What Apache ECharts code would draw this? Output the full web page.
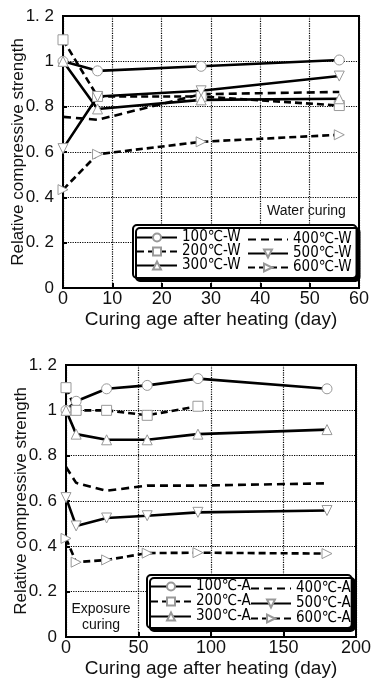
<!DOCTYPE html>
<html><head><meta charset="utf-8">
<script src="https://cdn.jsdelivr.net/npm/echarts@6/dist/echarts.min.js"></script>
<style>html,body{margin:0;padding:0;background:#fff}#c{width:371px;height:679px}</style>
</head><body><div id="c"></div>
<script>
// ---- Data: water curing (top) ----
const wDays = [0, 7, 28, 56];
const w100 = [1.0, 0.958, 0.978, 1.006];
const w200 = [1.095, 0.845, 0.845, 0.805];
const w300 = [1.0, 0.79, 0.83, 0.835];
const w400 = [0.755, 0.742, 0.855, 0.865];
const w500 = [0.615, 0.845, 0.87, 0.935];
const w600 = [0.434, 0.59, 0.645, 0.676];
const wNames = ['100℃-W', '200℃-W', '300℃-W', '400℃-W', '500℃-W', '600℃-W'];
// ---- Data: exposure curing (bottom) ----
const aDays = [0, 7, 28, 56, 91, 180];
const a100 = [1.0, 1.04, 1.095, 1.11, 1.14, 1.095];
const a200 = [1.1, 1.0, 1.0, 0.978, 1.018, null];
const a300 = [1.0, 0.895, 0.87, 0.87, 0.895, 0.915];
const a400 = [0.75, 0.68, 0.645, 0.668, 0.668, 0.678];
const a500 = [0.615, 0.49, 0.525, 0.535, 0.55, 0.558];
const a600 = [0.435, 0.33, 0.34, 0.37, 0.372, 0.368];
const aNames = ['100℃-A', '200℃-A', '300℃-A', '400℃-A', '500℃-A', '600℃-A'];
// ---- Axis labels ----
const yTicks = [0, 0.2, 0.4, 0.6, 0.8, 1.0, 1.2];
const yTickText = ['0', '0. 2', '0. 4', '0. 6', '0. 8', '1', '1. 2'];
const yTitle = 'Relative compressive strength';
const xTitle = 'Curing age after heating (day)';

const chart = echarts.init(document.getElementById('c'), null, {renderer: 'canvas'});
const FONT = '"Liberation Sans", Arial, sans-serif';
const NARROW = '"Liberation Sans Narrow", "Arial Narrow", "DejaVu Sans Condensed", "Liberation Sans", sans-serif';

function pairs(days, vals) {
  const out = [];
  days.forEach((d, i) => { if (vals[i] != null) out.push([d, vals[i]]); });
  return out;
}
const styles = [
  {symbol: 'circle', rot: 0, dash: 'solid'},
  {symbol: 'rect', rot: 0, dash: [7, 4]},
  {symbol: 'triangle', rot: 0, dash: 'solid'},
  {symbol: 'none', rot: 0, dash: [8, 5]},
  {symbol: 'triangle', rot: 180, dash: 'solid'},
  {symbol: 'triangle', rot: -90, dash: [7, 4]}
];
function makeSeries(names, days, arrs, gi) {
  return arrs.map((vals, k) => ({
    type: 'line', name: names[k], xAxisIndex: gi, yAxisIndex: gi,
    data: pairs(days, vals),
    symbol: styles[k].symbol, symbolRotate: styles[k].rot, symbolSize: 10,
    showAllSymbol: true, animation: false,
    lineStyle: {color: '#000', width: 2.6, type: styles[k].dash},
    itemStyle: {color: '#fff', borderColor: '#999', borderWidth: 1}
  }));
}
const yLabelFmt = v => { const i = yTicks.findIndex(t => Math.abs(t - v) < 1e-6); return i >= 0 ? yTickText[i] : ''; };

function xAxis(gi, max, interval) {
  return {
    type: 'value', gridIndex: gi, min: 0, max: max, interval: interval,
    name: xTitle, nameLocation: 'middle', nameGap: 22,
    nameTextStyle: {fontFamily: FONT, fontSize: 19, color: '#111'},
    axisLine: {show: true, lineStyle: {color: '#000', width: 2}},
    axisTick: {show: true, inside: true, length: 5, lineStyle: {color: '#000', width: 2}},
    axisLabel: {fontFamily: FONT, fontSize: 18, color: '#111', margin: 2},
    splitLine: {show: true, lineStyle: {color: '#000', type: 'dotted', width: 1.2}}
  };
}
function yAxis(gi) {
  return {
    type: 'value', gridIndex: gi, min: 0, max: 1.2, interval: 0.2,
    name: yTitle, nameLocation: 'middle', nameGap: 36, nameRotate: 90, nameMoveOverlap: false,
    nameTextStyle: {fontFamily: FONT, fontSize: 17, color: '#111'},
    axisLine: {show: true, lineStyle: {color: '#000', width: 2}},
    axisTick: {show: true, inside: true, length: 4, lineStyle: {color: '#000', width: 2}},
    axisLabel: {fontFamily: FONT, fontSize: 17, color: '#111', margin: 9, formatter: yLabelFmt},
    splitLine: {show: true, lineStyle: {color: '#000', type: 'dotted', width: 1.2}}
  };
}
function legendData(names) {
  return names.map((n, k) => styles[k].symbol === 'none'
    ? {name: n, itemStyle: {color: 'transparent', borderColor: 'transparent', opacity: 0}}
    : {name: n});
}
function legends(names, left, top, colGap, padR, gap, padV) {
  const base = {
    orient: 'vertical', itemWidth: 40, itemHeight: 10, itemGap: gap,
    textStyle: {fontFamily: NARROW, fontSize: 15, color: '#000'},
    selectedMode: false, top: top
  };
  const d = legendData(names);
  return [
    Object.assign({}, base, {
      data: d.slice(0, 3), left: left,
      padding: [padV, padR, padV, 3],
      backgroundColor: '#fff', borderColor: '#000', borderWidth: 2, borderRadius: 4,
      shadowColor: '#000', shadowBlur: 0, shadowOffsetX: 3, shadowOffsetY: 3, z: 5
    }),
    Object.assign({}, base, {
      data: d.slice(3), left: left + colGap, top: top + padV + 2, padding: 0, z: 10
    })
  ];
}

chart.setOption({
  backgroundColor: '#fff',
  animation: false,
  grid: [
    {left: 63, right: 12, top: 16, height: 272, show: true, borderColor: '#000', borderWidth: 2, backgroundColor: 'transparent', containLabel: false, outerBoundsMode: 'none'},
    {left: 66, right: 15, top: 365, height: 272, show: true, borderColor: '#000', borderWidth: 2, backgroundColor: 'transparent', containLabel: false, outerBoundsMode: 'none'}
  ],
  xAxis: [xAxis(0, 60, 10), xAxis(1, 200, 50)],
  yAxis: [yAxis(0), yAxis(1)],
  legend: legends(wNames, 133, 225, 114, 116, -1, 5).concat(legends(aNames, 147, 575, 103, 101, 0, 4)),
  graphic: [
    {type: 'text', left: 267, top: 204, z: 20, style: {text: 'Water curing', font: '14px ' + FONT, fill: '#111'}},
    {type: 'text', x: 101, y: 601, z: 20, style: {text: 'Exposure\ncuring', font: '14px ' + FONT, fill: '#111', align: 'center', lineHeight: 16}}
  ],
  series: makeSeries(wNames, wDays, [w100, w200, w300, w400, w500, w600], 0)
    .concat(makeSeries(aNames, aDays, [a100, a200, a300, a400, a500, a600], 1))
});
</script></body></html>
